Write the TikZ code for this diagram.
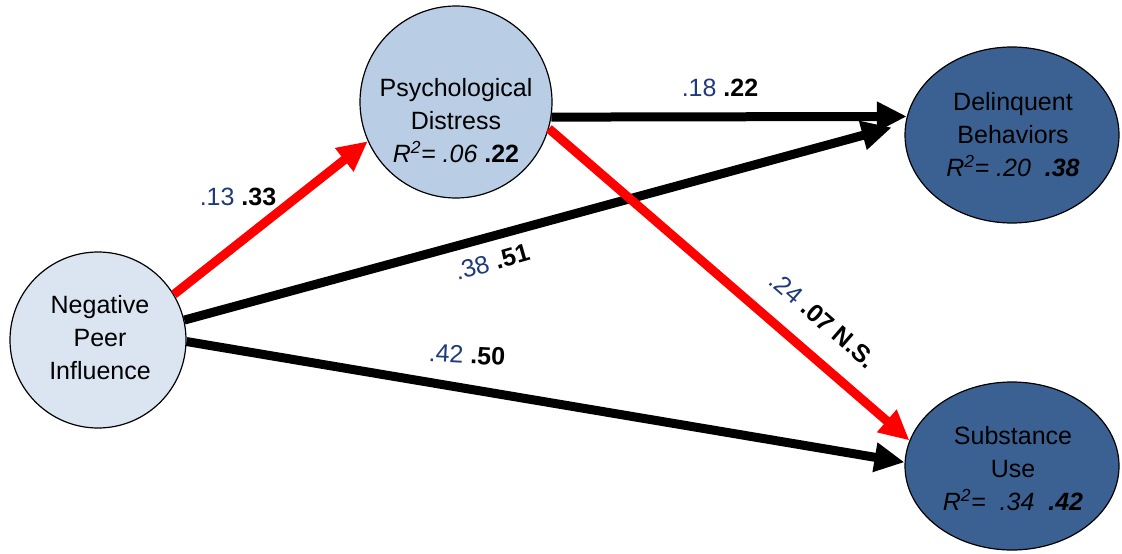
\documentclass[tikz,border=0pt]{standalone}
\usepackage{fontspec}
\setmainfont{Liberation Sans}
\usetikzlibrary{arrows.meta,shapes.geometric}
\definecolor{navy}{HTML}{1F3A7A}
\definecolor{lightfill}{HTML}{DBE5F1}
\definecolor{midfill}{HTML}{B9CDE5}
\definecolor{darkfill}{HTML}{3B6192}
\tikzset{
  nodefont/.style={font=\fontsize{25}{33}\selectfont},
  var/.style={draw=black, line width=1.2pt, inner sep=0pt},
  txt/.style={nodefont, align=center, inner sep=0pt},
  lbl/.style={nodefont, inner sep=0pt},
  path/.style={line width=9pt, -{Triangle[length=30pt,width=28pt]}},
  redpath/.style={path, draw=red},
  blackpath/.style={path, draw=black}
}
\begin{document}
\begin{tikzpicture}[x=1pt,y=-1pt]
\useasboundingbox (0,0) rectangle (1122,554);
% variables
\node[var, circle, fill=lightfill, minimum size=176pt] (npi) at (98,340) {};
\node[var, circle, fill=midfill, minimum size=192pt] (pd) at (456,102) {};
\node[var, ellipse, fill=darkfill, minimum width=214pt, minimum height=176pt] (db) at (1012,135) {};
\node[var, ellipse, fill=darkfill, minimum width=214pt, minimum height=168pt] (su) at (1012,466) {};
% texts
\node[txt] (npit) at (100,338) {Negative\\Peer\\Influence};
\node[txt] (pdt) at (456,121) {Psychological\\Distress\\\textit{R\textsuperscript{2}}\textit{= .06} \textbf{.22}};
\node[txt] (dbt) at (1013,135) {Delinquent\\Behaviors\\\textit{R\textsuperscript{2}= .20\ \ }\textbf{\textit{.38}}};
\node[txt] (sut) at (1013,469) {Substance\\Use\\\textit{R\textsuperscript{2}=\ \ .34\ \ }\textbf{\textit{.42}}};
% paths
\draw[blackpath] (pd.-9) -- (db.170);
\draw[blackpath, shorten >=14pt] (npi.13) -- (db.174);
\draw[blackpath] (npi.-1) -- (su.178);
\draw[redpath] (npi.31) -- (pd.204);
\draw[redpath] (pd.-16) -- (su.166);
% path labels
\node[lbl] (l1) at (238,197) {{\color{navy}.13} \textbf{.33}};
\node[lbl] (l2) at (720,88) {{\color{navy}.18} \textbf{.22}};
\node[lbl, rotate=16] (l3) at (492,262) {{\color{navy}.38} \textbf{.51}};
\node[lbl, rotate=-3] (l4) at (467,355) {{\color{navy}.42} \textbf{.50}};
\node[lbl, rotate=-41] (l5) at (823,320) {{\color{navy}.24} \textbf{.07 N.S.}};
\end{tikzpicture}
\end{document}
